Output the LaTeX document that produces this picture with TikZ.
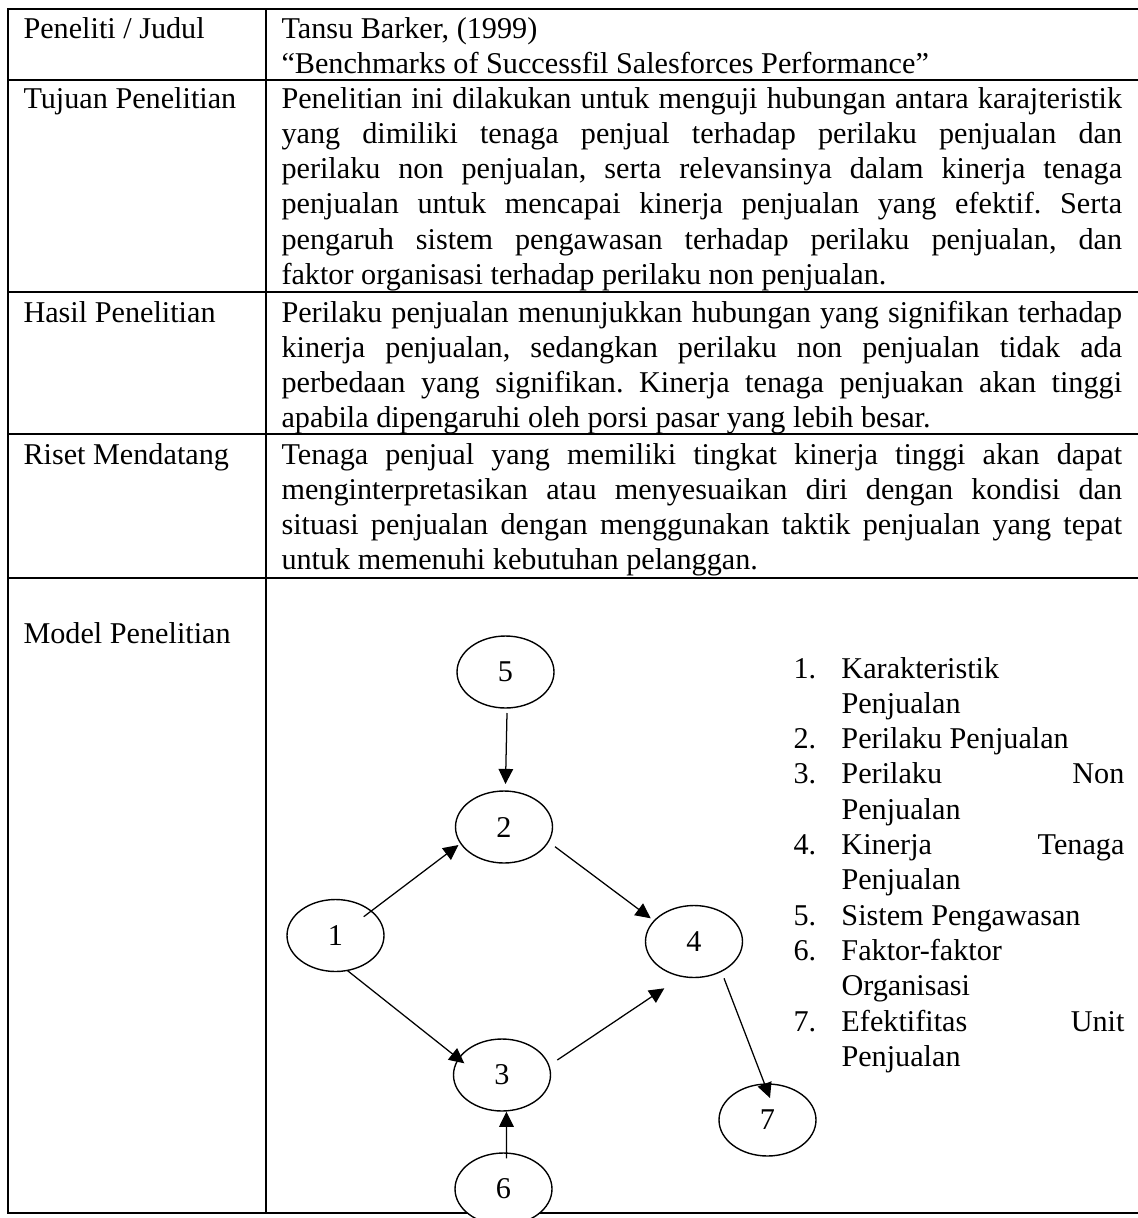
\documentclass[tikz,border=0pt]{standalone}
\usepackage{fontspec}
\setmainfont{Liberation Serif}
\usetikzlibrary{shapes.geometric,arrows.meta}

% one drawing unit = one raster pixel of the page
\def\pxu{0.39735pt}
\newlength\cellw \setlength\cellw{334pt}
\newlength\numcol \setlength\numcol{19.07pt}
\newlength\keyw \setlength\keyw{112.43pt}
% justified line: the extra room is shared equally by the word spaces
\newcommand\spread[2]{{\spaceskip=\fontdimen2\font plus 1fil minus \fontdimen4\font
  \makebox[#1][s]{#2}}}
\newcommand\jl[1]{\spread{\cellw}{#1}}
\newcommand\itm[2]{\makebox[\numcol][l]{#1}#2}
\newcommand\itmj[2]{\makebox[\numcol][l]{#1}\spread{\keyw}{#2}}
\newcommand\cont[1]{\hspace*{\numcol}#1}

\begin{document}
\begin{tikzpicture}[x=\pxu,y=-\pxu,
  rule/.style={line width=0.9pt, line cap=rect},
  txt/.style={inner sep=0pt, anchor=base west,
    font=\fontsize{12pt}{14.03pt}\selectfont\frenchspacing,
    execute at begin node={\spaceskip=0pt\xspaceskip=0pt\relax}},
  cell/.style={txt, text width=\cellw, align=left},
  legend/.style={txt, text width=131.5pt, align=left},
  var/.style={ellipse, draw, line width=0.55pt, fill=white, inner sep=0pt,
    minimum width=38.54pt, minimum height=28.6pt, font=\fontsize{12pt}{14pt}\selectfont},
  arr/.style={line width=0.5pt, -{Triangle[length=6pt,width=5.8pt]}}]

\useasboundingbox (0,0) rectangle (1138,1218);
\clip (0,0) rectangle (1138,1218);

% table rules
\draw[rule] (8,9) -- (1138,9);
\draw[rule] (8,80) -- (1138,80);
\draw[rule] (8,292) -- (1138,292);
\draw[rule] (8,434) -- (1138,434);
\draw[rule] (8,578) -- (1138,578);
\draw[rule] (8,1213) -- (1138,1213);
\draw[rule] (8,9) -- (8,1213);
\draw[rule] (266,9) -- (266,1213);

% left column labels
\node[txt] (l1) at (23,38) {Peneliti / Judul};
\node[txt] (l2) at (23,108) {Tujuan Penelitian};
\node[txt] (l3) at (23,322) {Hasil Penelitian};
\node[txt] (l4) at (23,464) {Riset Mendatang};
\node[txt] (l5) at (23,643) {Model Penelitian};

% right column contents
\node[cell] (r1) at (281,38) {Tansu Barker, (1999)\\
“Benchmarks of Successfil Salesforces Performance”};

\node[cell] (r2) at (281,108) {\jl{Penelitian ini dilakukan untuk menguji hubungan antara karajteristik}\\
\jl{yang dimiliki tenaga penjual terhadap perilaku penjualan dan}\\
\jl{perilaku non penjualan, serta relevansinya dalam kinerja tenaga}\\
\jl{penjualan untuk mencapai kinerja penjualan yang efektif. Serta}\\
\jl{pengaruh sistem pengawasan terhadap perilaku penjualan, dan}\\
faktor organisasi terhadap perilaku non penjualan.};

\node[cell] (r3) at (281,322) {\jl{Perilaku penjualan menunjukkan hubungan yang signifikan terhadap}\\
\jl{kinerja penjualan, sedangkan perilaku non penjualan tidak ada}\\
\jl{perbedaan yang signifikan. Kinerja tenaga penjuakan akan tinggi}\\
apabila dipengaruhi oleh porsi pasar yang lebih besar.};

\node[cell] (r4) at (281,464) {\jl{Tenaga penjual yang memiliki tingkat kinerja tinggi akan dapat}\\
\jl{menginterpretasikan atau menyesuaikan diri dengan kondisi dan}\\
\jl{situasi penjualan dengan menggunakan taktik penjualan yang tepat}\\
untuk memenuhi kebutuhan pelanggan.};

% legend of the model
\node[legend] (key) at (793,678) {\itm{1.}{Karakteristik}\\
\cont{Penjualan}\\
\itm{2.}{Perilaku Penjualan}\\
\itmj{3.}{Perilaku Non}\\
\cont{Penjualan}\\
\itmj{4.}{Kinerja Tenaga}\\
\cont{Penjualan}\\
\itm{5.}{Sistem Pengawasan}\\
\itm{6.}{Faktor-faktor}\\
\cont{Organisasi}\\
\itmj{7.}{Efektifitas Unit}\\
\cont{Penjualan}};

% research model
\node[var] (n5) at (505.5,672) {5};
\node[var] (n2) at (504,827) {2};
\node[var] (n1) at (335.5,935.5) {1};
\node[var] (n4) at (694,941.5) {4};
\node[var] (n3) at (502,1075) {3};
\node[var] (n7) at (767.5,1120) {7};
\node[var] (n6) at (503.5,1189) {6};

\draw[arr] ([shift={(1.5,41)}]n5.center) -- ([shift={(1.5,-43)}]n2.center);
\draw[arr] ([shift={(28.2,-18.8)}]n1.center) -- ([shift={(-45.5,18)}]n2.center);
\draw[arr] ([shift={(51,19.7)}]n2.center) -- ([shift={(-43.3,-23.2)}]n4.center);
\draw[arr] ([shift={(12.1,35.2)}]n1.center) -- ([shift={(-37.7,-11.7)}]n3.center);
\draw[arr] ([shift={(55.3,-15)}]n3.center) -- ([shift={(-29.7,46.8)}]n4.center);
\draw[arr] ([shift={(30,36.8)}]n4.center) -- ([shift={(2.5,-22)}]n7.center);
\draw[arr] ([shift={(3,-30.7)}]n6.center) -- ([shift={(4.4,36.7)}]n3.center);
\end{tikzpicture}
\end{document}
